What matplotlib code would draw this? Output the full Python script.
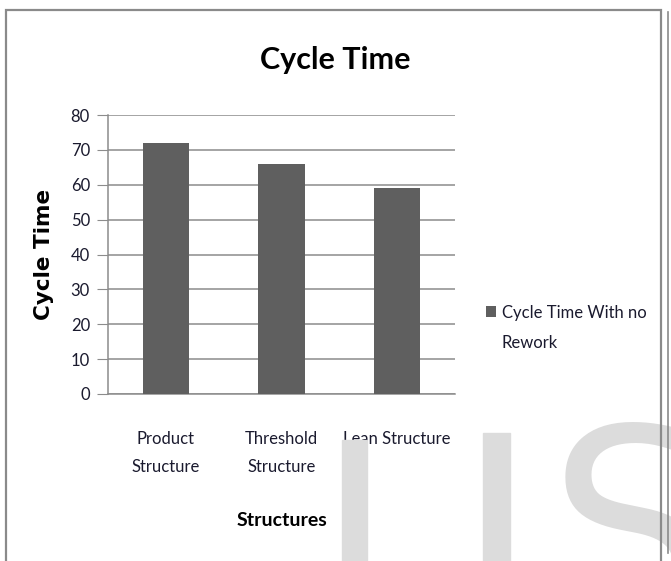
import matplotlib.pyplot as plt
from matplotlib.patches import Rectangle
from matplotlib.lines import Line2D
from matplotlib.legend_handler import HandlerPatch
from matplotlib.container import BarContainer

# data
structures = ['Product\nStructure', 'Threshold\nStructure', 'Lean Structure']
cycle_time = [72, 66, 59]
series_name = 'Cycle Time With no\nRework'
yticks = [0, 10, 20, 30, 40, 50, 60, 70, 80]

bar_color = '#5f5f5f'
grid_color = '#8c8c8c'
font = 'Lato'

fig = plt.figure(figsize=(6.71, 5.61), dpi=100)

# watermark
wm = '#dcdcdc'
fig.patches.append(Rectangle((342 / 671, 0), 25 / 671, 1 - 440 / 561,
                             transform=fig.transFigure, color=wm, zorder=0))
fig.patches.append(Rectangle((483 / 671, 0), 27 / 671, 1 - 433 / 561,
                             transform=fig.transFigure, color=wm, zorder=0))
fig.text(548 / 671, -0.2, 'S', fontsize=190, color=wm, family='DejaVu Sans',
         ha='left', va='bottom', zorder=0)

# outer frame
fig.patches.append(Rectangle((6 / 671, -0.1), 655 / 671, 1.1 - 10 / 561,
                             transform=fig.transFigure, fill=False,
                             edgecolor='#8a8a8a', lw=1.6, zorder=1))
fig.lines.append(Line2D([668 / 671, 668 / 671], [1 - 553 / 561, 1 - 12 / 561],
                        transform=fig.transFigure, color='#8a8a8a', lw=1.2))

ax = fig.add_axes([108 / 671, 1 - 394 / 561, 347 / 671, 279 / 561])
x = range(len(structures))
ax.bar(x, cycle_time, width=0.4, color=bar_color, label=series_name, zorder=3)

ax.set_xlim(-0.5, 2.5)
ax.set_ylim(0, 80)
ax.set_yticks(yticks)
ax.set_yticklabels([str(v) for v in yticks], family=font, fontsize=12, color='#1a1a2e')
ax.set_xticks(list(x))
ax.set_xticklabels(structures, family=font, fontsize=12, color='#1a1a2e',
                   linespacing=1.85)
ax.tick_params(axis='x', length=0, pad=27)
ax.tick_params(axis='y', length=8, color=grid_color, pad=5)
ax.yaxis.grid(True, color=grid_color, lw=1.1, zorder=0)
ax.set_axisbelow(True)
for s in ['top', 'right']:
    ax.spines[s].set_visible(False)
ax.spines['left'].set_color(grid_color)
ax.spines['bottom'].set_color(grid_color)
ax.spines['left'].set_linewidth(1.1)
ax.spines['bottom'].set_linewidth(1.1)

ax.set_xlabel('Structures', family=font, fontsize=14, fontweight='bold', labelpad=27)
ax.set_ylabel('Cycle Time', family='DejaVu Sans', fontsize=15.5, fontweight='bold', labelpad=12)
fig.text(335 / 671, 1 - 60 / 561, 'Cycle Time', family=font, fontsize=22,
         fontweight='bold', ha='center', va='center')


# legend square sits on the first text line, not centred on both
def top_square(legend, orig_handle, xdescent, ydescent, width, height, fontsize):
    return Rectangle((-xdescent, -ydescent + 12), width, height)


def square_color(handle, orig):
    handle.set_facecolor(bar_color)
    handle.set_edgecolor('none')


leg = fig.legend(loc='upper left', bbox_to_anchor=(471 / 671, 1 - 290 / 561),
                 frameon=False, prop={'family': font, 'size': 12},
                 handlelength=0.6, handleheight=0.6, handletextpad=0.35,
                 handler_map={BarContainer: HandlerPatch(patch_func=top_square,
                                                         update_func=square_color)})
for t in leg.get_texts():
    t.set_linespacing(2.05)
    t.set_color('#1a1a2e')

fig.savefig('out.png', dpi=100)
